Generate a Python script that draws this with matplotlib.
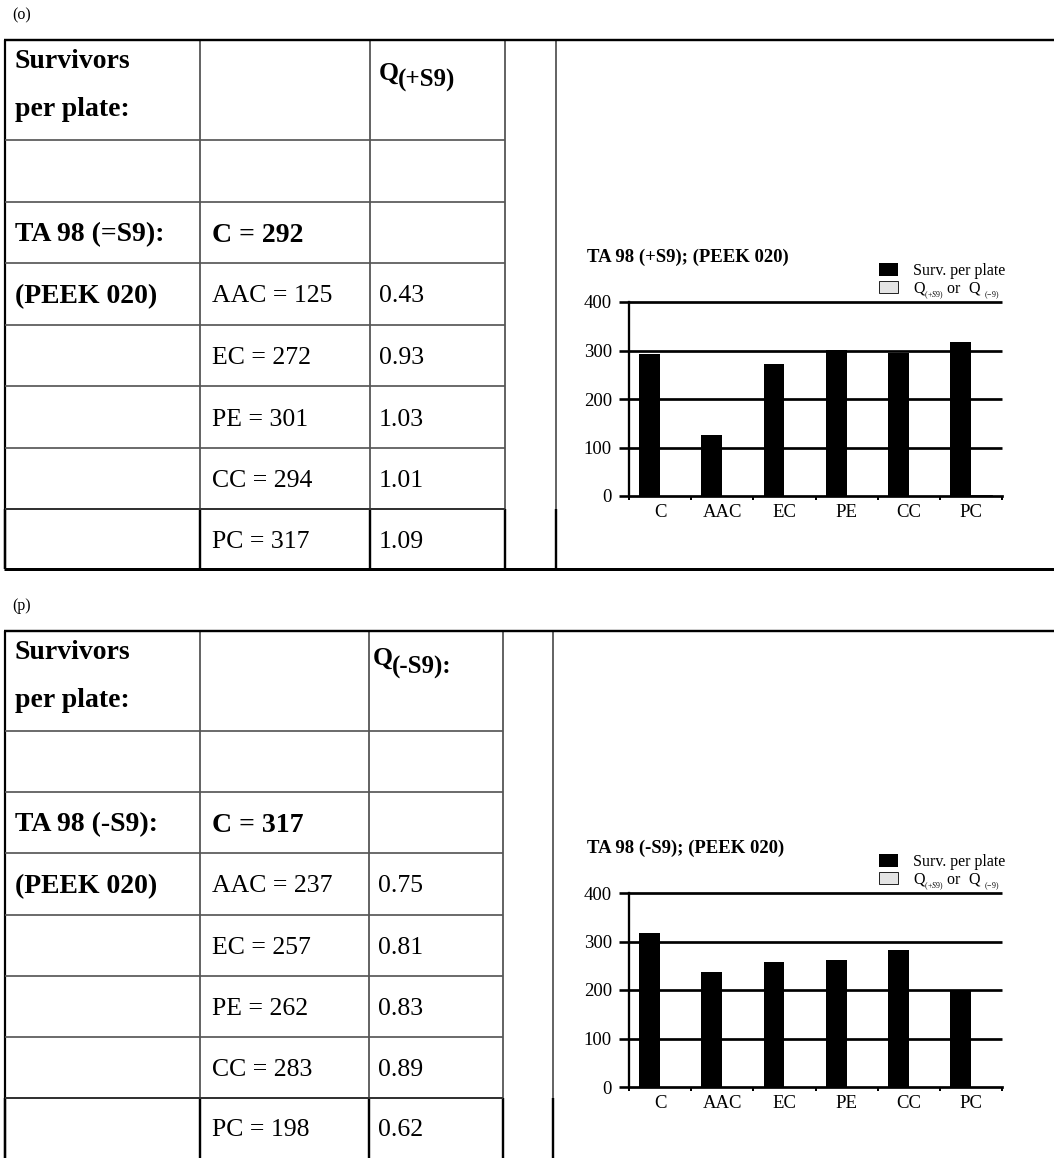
import matplotlib
matplotlib.use('Agg')
import matplotlib.pyplot as plt
import numpy as np

plt.rcParams['font.family'] = ['Liberation Serif', 'DejaVu Serif']
plt.rcParams['mathtext.fontset'] = 'custom'
plt.rcParams['mathtext.rm'] = 'Liberation Serif'
plt.rcParams['mathtext.it'] = 'Liberation Serif:italic'
plt.rcParams['mathtext.bf'] = 'Liberation Serif:bold'

# ---------------- data ----------------
categories = ['C', 'AAC', 'EC', 'PE', 'CC', 'PC']
surv_o = [292, 125, 272, 301, 294, 317]
q_o = [1.00, 0.43, 0.93, 1.03, 1.01, 1.09]
surv_p = [317, 237, 257, 262, 283, 198]
q_p = [1.00, 0.75, 0.81, 0.83, 0.89, 0.62]
yticks = [0, 100, 200, 300, 400]

panel_labels = ['(o)', '(p)']
strain_labels = ['TA 98 (=S9):', 'TA 98 (-S9):']
material_label = '(PEEK 020)'
q_heads = [('Q', '(+S9)'), ('Q', '(-S9):')]
chart_titles = ['TA 98 (+S9); (PEEK 020)', 'TA 98 (-S9); (PEEK 020)']
header_lines = ['Survivors', 'per plate:']
legend_labels = ['Surv. per plate', r'Q$_{_{(+S9)}}$ or  Q $_{_{(-9)}}$']

# ---------------- layout ----------------
W, H = 1054, 1158
PX = 72 / 100.0  # points per pixel
fig = plt.figure(figsize=(W / 100, H / 100), dpi=100)
tab = fig.add_axes([0, 0, 1, 1])
tab.set_xlim(0, W)
tab.set_ylim(H, 0)
tab.axis('off')

sections = [
    dict(cols=[5, 200, 370, 505, 556],
         rows=[40, 140, 202, 263, 325, 386, 448, 509, 569],
         bottom=True, surv=surv_o, q=q_o, qx=9, qy=(40, 47)),
    dict(cols=[5, 200, 369, 503, 553],
         rows=[631, 731, 792, 853, 915, 976, 1037, 1098, 1158],
         bottom=False, surv=surv_p, q=q_p, qx=4, qy=(34, 43)),
]

GREY = '#555555'
BLK = '#000000'
REG = 18.5
BOLD = 20


def hl(y, x0, x1, lw, c):
    tab.plot([x0, x1], [y, y], color=c, lw=lw * PX, solid_capstyle='butt')


def vl(x, y0, y1, lw, c):
    tab.plot([x, x], [y0, y1], color=c, lw=lw * PX, solid_capstyle='butt')


for k, s in enumerate(sections):
    cols, rows = s['cols'], s['rows']
    top = rows[0]
    bot = rows[-1]
    # vertical lines
    for x in cols:
        vl(x, top, rows[-2], 1.8, GREY)
        vl(x, rows[-2], bot, 2.4, BLK)
    vl(cols[0], top, bot, 2.2, BLK)
    # horizontal row lines
    for y in rows[1:-2]:
        hl(y, cols[0], cols[3], 1.7, GREY)
    hl(rows[-2], cols[0], cols[3], 2.0, '#333333')
    hl(top, cols[0] - 1, W, 2.4, BLK)
    if s['bottom']:
        hl(bot, cols[0] - 1, W, 3.0, BLK)

    # panel label
    tab.text(12, top - 25, panel_labels[k], fontsize=11.5, va='center', ha='left')
    # header
    tab.text(15, top + 28, header_lines[0], fontsize=BOLD, fontweight='bold', va='baseline')
    tab.text(15, top + 76, header_lines[1], fontsize=BOLD, fontweight='bold', va='baseline')
    tab.text(cols[2] + s['qx'], top + s['qy'][0], q_heads[k][0], fontsize=18.5,
             fontweight='bold', va='baseline')
    tab.text(cols[2] + s['qx'] + 19, top + s['qy'][1], q_heads[k][1], fontsize=18,
             fontweight='bold', va='baseline')

    def base(i, b=False):
        return (rows[i] + rows[i + 1]) / 2 + (9 if b else 8.5)

    tab.text(15, base(2, True), strain_labels[k], fontsize=BOLD, fontweight='bold', va='baseline')
    tab.text(15, base(3, True), material_label, fontsize=BOLD, fontweight='bold', va='baseline')
    for i, (c, v, qq) in enumerate(zip(categories, s['surv'], s['q'])):
        b = (i == 0)
        tab.text(212, base(2 + i, b), f'{c} = {v}', fontsize=BOLD if b else REG,
                 fontweight='bold' if b else 'normal', va='baseline')
        if i > 0:
            tab.text(cols[2] + 9, base(2 + i), f'{qq:.2f}', fontsize=REG, va='baseline')

    # ---------------- chart ----------------
    ax_l, ax_r = 629, 1002
    ax_t, ax_b = top + 262, top + 456
    ax = fig.add_axes([ax_l / W, 1 - ax_b / H, (ax_r - ax_l) / W, (ax_b - ax_t) / H])
    ax.set_facecolor('none')
    x = np.arange(len(categories)) + 0.5
    bw = 0.336
    ax.hlines(yticks[1:], 0, len(categories), color='black', lw=2.7 * PX, clip_on=False, zorder=1)
    b1 = ax.bar(x - bw / 2, s['surv'], width=bw, color='black', zorder=2)
    b2 = ax.bar(x + bw / 2, s['q'], width=bw, color='#e4e4e4', edgecolor='black', lw=0.6, zorder=2)
    ax.set_xlim(0, len(categories))
    ax.set_ylim(0, 400)
    ax.set_yticks(yticks)
    ax.set_xticks(x, categories)
    ax.set_xticks(np.arange(len(categories) + 1), minor=True)
    ax.tick_params(axis='y', direction='out', length=10 * PX, width=2.6 * PX, pad=7 * PX,
                   labelsize=13.5, color='black')
    ax.tick_params(axis='x', which='major', length=0, pad=8 * PX, labelsize=13.5)
    ax.tick_params(axis='x', which='minor', direction='out', length=4 * PX, width=2 * PX)
    for sp in ['top', 'right']:
        ax.spines[sp].set_visible(False)
    ax.spines['left'].set_linewidth(2.3 * PX)
    ax.spines['bottom'].set_linewidth(2.7 * PX)

    fig.text(587 / W, 1 - (top + 222) / H, chart_titles[k], fontsize=13.5,
             fontweight='bold', va='baseline', ha='left')
    ax.legend([b1, b2], legend_labels, loc='upper left',
              bbox_to_anchor=(879 / W, 1 - (top + 223) / H), bbox_transform=fig.transFigure,
              frameon=False, fontsize=11.5, borderpad=0, borderaxespad=0,
              handlelength=1.2, handleheight=0.8, handletextpad=0.95, labelspacing=0.05)

fig.savefig('out.png', dpi=100)
